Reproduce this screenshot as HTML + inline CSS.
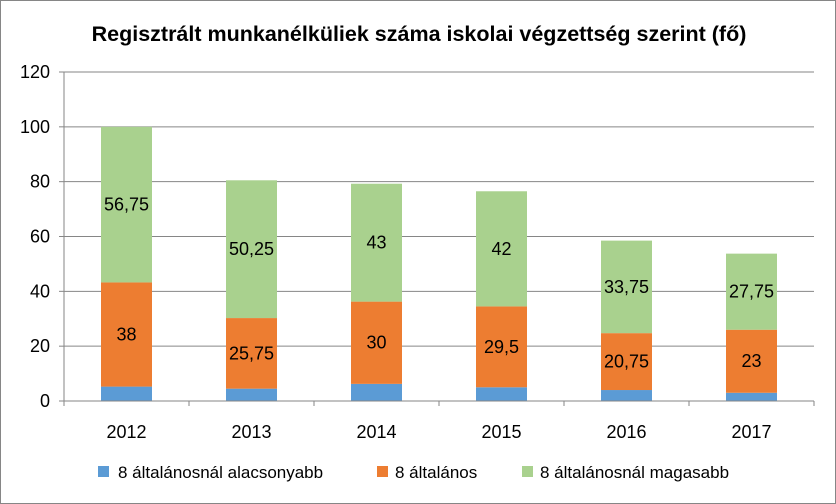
<!DOCTYPE html>
<html><head><meta charset="utf-8"><style>
body{margin:0;background:#fff}
svg{display:block;font-family:"Liberation Sans",sans-serif}
</style></head><body>
<svg id="chart" width="836" height="504">
<rect x="0.5" y="0.5" width="835" height="503" fill="#fff" stroke="#868686"/>
<text x="419" y="41" text-anchor="middle" font-size="21.5" font-weight="bold" fill="#000">Regisztrált munkanélküliek száma iskolai végzettség szerint (fő)</text>
<g id="grid"></g><g id="bars"></g><g id="axes"></g>
<g>
<rect x="98" y="466" width="11" height="11" fill="#5B9BD5"/>
<text x="118" y="478" font-size="17">8 általánosnál alacsonyabb</text>
<rect x="377" y="466" width="11" height="11" fill="#ED7D31"/>
<text x="395" y="478" font-size="17">8 általános</text>
<rect x="522" y="466" width="11" height="11" fill="#A9D18E"/>
<text x="540" y="478" font-size="17">8 általánosnál magasabb</text>
</g>
</svg>
<script>
const categories=["2012","2013","2014","2015","2016","2017"];
const lowVals=[5.25,4.5,6.25,5,4,3];
const midVals=[38,25.75,30,29.5,20.75,23];
const highVals=[56.75,50.25,43,42,33.75,27.75];
const midLabels=["38","25,75","30","29,5","20,75","23"];
const highLabels=["56,75","50,25","43","42","33,75","27,75"];
const yTicks=[0,20,40,60,80,100,120];
const NS="http://www.w3.org/2000/svg";
const x0=64,x1=814,yBase=401,yTop=72,yMax=120;
const band=(x1-x0)/categories.length,barW=51;
const y=v=>yBase-(v/yMax)*(yBase-yTop);
const cx=i=>x0+band*(i+0.5);
function mk(tag,attrs,parent){const e=document.createElementNS(NS,tag);for(const k in attrs)e.setAttribute(k,attrs[k]);parent.appendChild(e);return e;}
const grid=document.getElementById('grid'),bars=document.getElementById('bars'),axes=document.getElementById('axes');
yTicks.forEach(t=>{
 if(t>0){const l=mk('line',{x1:x0,x2:x1,y1:y(t),y2:y(t),stroke:'#868686','stroke-width':1},grid);
 
 }
 const tx=mk('text',{x:x0-14,y:y(t)+6,'text-anchor':'end','font-size':18},axes);tx.textContent=t;
 
 
 const tk=mk('line',{x1:x0-5,x2:x0,y1:y(t),y2:y(t),stroke:'#868686'},axes);
 
 
});
const ya=mk('line',{x1:x0,x2:x0,y1:yTop,y2:yBase,stroke:'#868686'},axes);


const xa=mk('line',{x1:x0,x2:x1,y1:yBase,y2:yBase,stroke:'#868686'},axes);


for(let i=0;i<=categories.length;i++){
 const tk=mk('line',{x1:x0+band*i,x2:x0+band*i,y1:yBase,y2:yBase+5,stroke:'#868686'},axes);
 
 
}
categories.forEach((c,i)=>{
 const bx=cx(i)-barW/2;
 const a=lowVals[i],b=midVals[i],h=highVals[i];
 const r1=mk('rect',{x:bx,y:y(a),width:barW,height:y(0)-y(a),fill:'#5B9BD5'},bars);
 
 
 const r2=mk('rect',{x:bx,y:y(a+b),width:barW,height:y(a)-y(a+b),fill:'#ED7D31'},bars);
 
 
 const r3=mk('rect',{x:bx,y:y(a+b+h),width:barW,height:y(a+b)-y(a+b+h),fill:'#A9D18E'},bars);
 
 
 const t2=mk('text',{x:cx(i),y:(y(a)+y(a+b))/2+6,'text-anchor':'middle','font-size':18},bars);t2.textContent=midLabels[i];
 
 
 const t3=mk('text',{x:cx(i),y:(y(a+b)+y(a+b+h))/2+6,'text-anchor':'middle','font-size':18},bars);t3.textContent=highLabels[i];
 
 
 const xl=mk('text',{x:cx(i),y:438,'text-anchor':'middle','font-size':18},axes);xl.textContent=c;
 
 
});
</script>
</body></html>
